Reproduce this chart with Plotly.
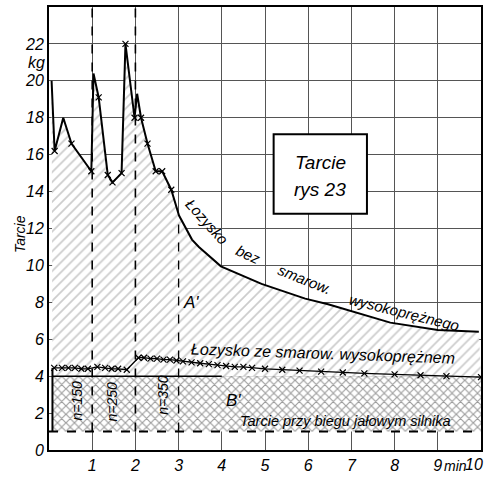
import plotly.graph_objects as go

# ---- data ----
upper_x = [0.06, 0.13, 0.33, 0.52, 0.98, 1.03, 1.15, 1.36, 1.47, 1.68, 1.77, 1.98, 2.04, 2.13, 2.28,
           2.47, 2.62, 2.83, 3.01, 3.31, 3.47, 3.75, 3.98, 4.92, 5.93, 6.46, 7.9, 9.0, 9.95]
upper_y = [20.0, 16.2, 18.0, 16.6, 15.1, 20.4, 19.1, 14.9, 14.5, 15.0, 22.0, 18.0, 19.3, 18.0, 16.6,
           15.1, 15.1, 14.1, 12.7, 11.4, 11.0, 10.4, 9.95, 9.0, 8.2, 7.9, 6.9, 6.5, 6.4]
upper_marked_x = [0.13, 0.52, 0.98, 1.15, 1.36, 1.47, 1.68, 1.77, 1.98, 2.13, 2.28, 2.47, 2.62, 2.83]
upper_marked_y = [16.2, 16.6, 15.1, 19.1, 14.9, 14.5, 15.0, 22.0, 18.0, 18.0, 16.6, 15.1, 15.1, 14.1]

lower_x = [0.12, 0.3, 0.45, 0.6, 0.75, 0.9, 1.12, 1.3, 1.45, 1.6, 1.8, 2.07, 2.2, 2.35, 2.5, 2.65,
           2.8, 2.95, 3.1, 3.3, 3.5, 3.7, 3.9, 4.1, 4.3, 4.5, 4.7, 5.0, 5.4, 5.8, 6.3, 6.8, 7.3,
           8.0, 8.6, 9.2, 10.0]
lower_y = [4.45, 4.45, 4.45, 4.45, 4.4, 4.4, 4.5, 4.45, 4.4, 4.4, 4.35, 5.0, 5.0, 4.95, 4.95, 4.9,
           4.9, 4.85, 4.8, 4.75, 4.7, 4.65, 4.6, 4.55, 4.5, 4.5, 4.45, 4.4, 4.35, 4.3, 4.25, 4.2, 4.15,
           4.1, 4.05, 4.0, 3.95]

idle_friction = 1.0
bearing_base = 4.0
t_start = 0.08
t_end = 10.0

y_ticks = [0, 2, 4, 6, 8, 10, 12, 14, 16, 18, 20, 22]
x_ticks = [1, 2, 3, 4, 5, 6, 7, 8, 9]
x_ticktext = ["1", "2", "3", "4", "5", "6", "7", "8", "9"]

FONT = "Liberation Sans, Arial, sans-serif"

fig = go.Figure()

# diagonal hatched region between base line and the upper curve
fig.add_trace(go.Scatter(
    x=upper_x + [t_end, t_start], y=upper_y + [bearing_base, bearing_base],
    mode="none", fill="toself", fillcolor="rgba(255,255,255,0)",
    fillpattern=dict(shape="/", fgcolor="#9a9a9a", bgcolor="white", size=7, solidity=0.25),
    hoverinfo="skip", showlegend=False))

# cross hatched region
fig.add_trace(go.Scatter(
    x=[t_start, t_end, t_end, t_start], y=[idle_friction, idle_friction, bearing_base, bearing_base],
    mode="none", fill="toself", fillcolor="rgba(255,255,255,0)",
    fillpattern=dict(shape="x", fgcolor="#3a3a3a", bgcolor="white", size=6, solidity=0.35),
    hoverinfo="skip", showlegend=False))

# base solid line at 4
fig.add_trace(go.Scatter(x=[t_start, 4.0], y=[bearing_base, bearing_base], mode="lines",
                         line=dict(color="black", width=1.5), hoverinfo="skip", showlegend=False))
# left edge of region
fig.add_trace(go.Scatter(x=[t_start, t_start], y=[idle_friction, lower_y[0]], mode="lines",
                         line=dict(color="black", width=2), hoverinfo="skip", showlegend=False))
# idle friction dashed line
fig.add_trace(go.Scatter(x=[0, t_end], y=[idle_friction, idle_friction], mode="lines",
                         line=dict(color="black", width=2, dash="dash"), hoverinfo="skip", showlegend=False))

# upper curve
fig.add_trace(go.Scatter(x=upper_x, y=upper_y, mode="lines",
                         line=dict(color="black", width=2), hoverinfo="skip", showlegend=False))
fig.add_trace(go.Scatter(x=upper_marked_x, y=upper_marked_y, mode="markers",
                         marker=dict(symbol="x-thin", size=6, line=dict(color="black", width=1.2)),
                         hoverinfo="skip", showlegend=False))
# lower curve
fig.add_trace(go.Scatter(x=lower_x, y=lower_y, mode="lines+markers",
                         line=dict(color="black", width=1.3),
                         marker=dict(symbol="x-thin", size=6, line=dict(color="black", width=1.2)),
                         hoverinfo="skip", showlegend=False))

shapes = []
for xv in [1, 2]:
    shapes.append(dict(type="line", xref="x", yref="y", x0=xv, x1=xv, y0=idle_friction, y1=24,
                       line=dict(color="black", width=1.6, dash="dash")))
shapes.append(dict(type="line", xref="x", yref="y", x0=3, x1=3, y0=idle_friction, y1=12.7,
                   line=dict(color="black", width=1.3, dash="dash")))
shapes.append(dict(type="rect", xref="x", yref="y", x0=5.2, x1=7.36, y0=12.8, y1=17.1,
                   line=dict(color="black", width=2), fillcolor="white"))

it = dict(family=FONT, color="black", style="italic")
ann = []
def A(x, y, text, size=14, angle=0, xref="x", yref="y", **kw):
    kw.setdefault("xanchor", "center")
    kw.setdefault("yanchor", "middle")
    ann.append(dict(x=x, y=y, xref=xref, yref=yref, text=text, showarrow=False,
                    textangle=angle, font=dict(size=size, **it), **kw))

A(6.28, 15.6, "Tarcie", 19)
A(6.28, 14.1, "rys 23", 19)
A(3.66, 12.4, "Łozysko", 15, 48)
A(4.62, 10.6, "bez", 15, 25)
A(5.93, 9.26, "smarow.", 15, 22)
A(8.23, 7.45, "wysokoprężnego", 15, 14)
A(6.35, 5.25, "Łozysko ze smarow. wysokoprężnem", 16, 2)
A(6.87, 1.55, "Tarcie przy biegu jałowym silnika", 14.5, 0)
A(3.28, 8.0, "A'", 17)
A(4.28, 2.66, "B'", 17)
A(0.64, 2.66, "n=150", 14, -90)
A(1.47, 2.6, "n=250", 14, -90)
A(2.62, 3.0, "n=350", 14, -90)
A(-0.067, 11.7, "Tarcie", 14, -90, xref="paper")
A(-0.028, 21.0, "kg", 16, 0, xref="paper")
A(9.4, 0, "min", 14, 0, yref="paper", yanchor="top", yshift=-6)
A(10.0, 0, "10", 16, 0, yref="paper", yanchor="top", xanchor="right", xshift=4, yshift=-4)

fig.update_layout(
    width=488, height=479, margin=dict(l=49, r=5, t=6, b=22),
    paper_bgcolor="white", plot_bgcolor="white",
    shapes=shapes, annotations=ann, showlegend=False,
    font=dict(family=FONT, color="black"),
)
fig.update_xaxes(range=[0, 10], tickvals=x_ticks, ticktext=x_ticktext,
                 tickfont=dict(size=16, **it), showgrid=True, gridcolor="#555", gridwidth=1,
                 showline=True, linecolor="black", linewidth=2, mirror=True, zeroline=False, ticks="")
fig.update_yaxes(range=[0, 24], tickvals=y_ticks, tickfont=dict(size=16, **it),
                 showgrid=True, gridcolor="#555", gridwidth=1,
                 showline=True, linecolor="black", linewidth=2, mirror=True, zeroline=False, ticks="")

fig.write_html("out.html")
